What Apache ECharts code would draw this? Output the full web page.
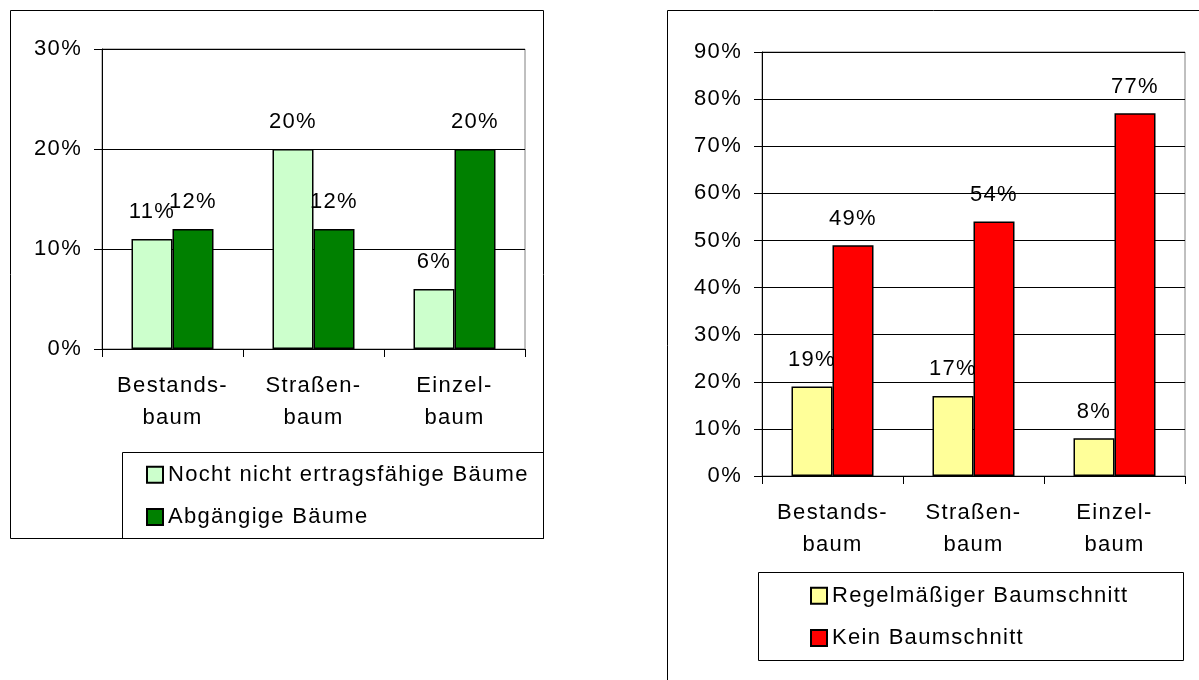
<!DOCTYPE html>
<html>
<head>
<meta charset="utf-8">
<script src="https://cdn.jsdelivr.net/npm/echarts@6/dist/echarts.min.js"></script>
<style>
  html, body { margin: 0; padding: 0; background: #fff; }
  #chart { width: 1199px; height: 680px; }
</style>
</head>
<body>
<div id="chart"></div>
<script>
// Baumtypen (gemeinsame Kategorien beider Diagramme)
const categories = ['Bestands-\nbaum', 'Straßen-\nbaum', 'Einzel-\nbaum'];

// Linkes Diagramm: Altersstruktur (Anteile in %)
const seriesNameLeftA = 'Nocht nicht ertragsfähige Bäume';
const seriesNameLeftB = 'Abgängige Bäume';
const nochNichtErtragsfaehig = [11, 20, 6];
const abgaengig = [12, 12, 20];

// Rechtes Diagramm: Pflege (Anteile in %)
const seriesNameRightA = 'Regelmäßiger Baumschnitt';
const seriesNameRightB = 'Kein Baumschnitt';
const regelmaessigerSchnitt = [19, 17, 8];
const keinSchnitt = [49, 54, 77];

const FONT = "'Liberation Sans', Arial, sans-serif";
const FS = 22;

// Etwas weitere Laufweite der Schrift, für Zeichnen und Messen gleichermaßen
(function () {
  const proto = CanvasRenderingContext2D.prototype;
  if (!('letterSpacing' in proto)) return;
  const SPACING = '1.3px';
  const origFill = proto.fillText;
  const origMeasure = proto.measureText;
  proto.fillText = function () { this.letterSpacing = SPACING; return origFill.apply(this, arguments); };
  proto.measureText = function () { this.letterSpacing = SPACING; return origMeasure.apply(this, arguments); };
})();

const chart = echarts.init(document.getElementById('chart'), null, { renderer: 'canvas' });

function yAxis(gridIndex, max) {
  return {
    type: 'value', gridIndex: gridIndex, min: 0, max: max, interval: 10,
    axisLine: { show: true, lineStyle: { color: '#000', width: 1 } },
    axisTick: { show: true, inside: false, length: 8, lineStyle: { color: '#000' } },
    axisLabel: { formatter: '{value}%', color: '#000', fontFamily: FONT, fontSize: FS, margin: 20 },
    splitLine: { show: true, lineStyle: { color: '#000', width: 1 } }
  };
}

function xAxis(gridIndex) {
  return {
    type: 'category', gridIndex: gridIndex, data: categories,
    axisLine: { show: true, onZero: false, lineStyle: { color: '#000', width: 1 } },
    axisTick: { show: true, inside: false, length: 8, lineStyle: { color: '#000' } },
    axisLabel: { color: '#000', fontFamily: FONT, fontSize: FS, lineHeight: 32, margin: 21, interval: 0 },
    splitLine: { show: false }
  };
}

function barSeries(name, data, color, axisIndex) {
  return {
    type: 'bar', name: name, data: data,
    xAxisIndex: axisIndex, yAxisIndex: axisIndex,
    barWidth: 41, barGap: '0%',
    itemStyle: { color: color, borderColor: '#000', borderWidth: 1.5 },
    label: {
      show: true, position: 'top', distance: 15,
      formatter: '{c}%', color: '#000', fontFamily: FONT, fontSize: FS
    },
    emphasis: { disabled: true },
    animation: false
  };
}

function legend(names, left, top) {
  return {
    data: names, orient: 'vertical', left: left, top: top,
    padding: 0, itemGap: 19, itemWidth: 16, itemHeight: 16, icon: 'rect',
    selectedMode: false,
    textStyle: { color: '#000', fontFamily: FONT, fontSize: FS, lineHeight: 22 }
  };
}

chart.setOption({
  backgroundColor: '#fff',
  animation: false,
  grid: [
    { left: 102, top: 49, width: 423, height: 300, show: true, borderColor: '#808080', borderWidth: 1, backgroundColor: 'transparent' },
    { left: 762, top: 52, width: 423, height: 424, show: true, borderColor: '#808080', borderWidth: 1, backgroundColor: 'transparent' }
  ],
  xAxis: [xAxis(0), xAxis(1)],
  yAxis: [yAxis(0, 30), yAxis(1, 90)],
  legend: [
    legend([seriesNameLeftA, seriesNameLeftB], 146, 463),
    legend([seriesNameRightA, seriesNameRightB], 810, 584)
  ],
  series: [
    barSeries(seriesNameLeftA, nochNichtErtragsfaehig, '#CCFFCC', 0),
    barSeries(seriesNameLeftB, abgaengig, '#008000', 0),
    barSeries(seriesNameRightA, regelmaessigerSchnitt, '#FFFF99', 1),
    barSeries(seriesNameRightB, keinSchnitt, '#FF0000', 1)
  ],
  graphic: [
    // Rahmen linkes Diagramm
    { type: 'rect', shape: { x: 10.5, y: 10.5, width: 533, height: 528 }, style: { fill: null, stroke: '#000', lineWidth: 1 }, silent: true, z: -1 },
    // Legendenrahmen links
    { type: 'rect', shape: { x: 122.5, y: 452.5, width: 421, height: 86 }, style: { fill: null, stroke: '#000', lineWidth: 1 }, silent: true, z: -1 },
    // Rahmen rechtes Diagramm (unten und rechts angeschnitten)
    { type: 'rect', shape: { x: 667.5, y: 10.5, width: 600, height: 720 }, style: { fill: null, stroke: '#000', lineWidth: 1 }, silent: true, z: -1 },
    // Legendenrahmen rechts
    { type: 'rect', shape: { x: 758.5, y: 572.5, width: 425, height: 88 }, style: { fill: null, stroke: '#000', lineWidth: 1 }, silent: true, z: -1 }
  ]
});
</script>
</body>
</html>
